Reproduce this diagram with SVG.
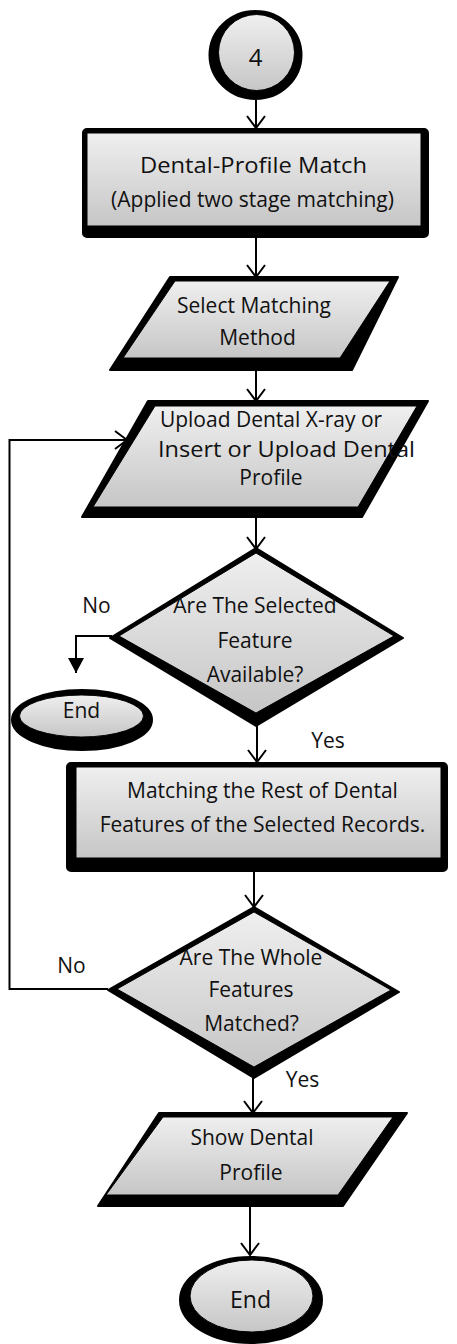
<svg xmlns="http://www.w3.org/2000/svg" width="457" height="1344" viewBox="0 0 457 1344">
<defs>
<linearGradient id="g" x1="0" y1="0" x2="0" y2="1">
<stop offset="0" stop-color="#efefef"/>
<stop offset="1" stop-color="#c6c6c6"/>
</linearGradient>
<marker id="open" markerUnits="userSpaceOnUse" viewBox="-14 -11 17 22" refX="0" refY="0" markerWidth="17" markerHeight="22" orient="auto" overflow="visible">
<path d="M-12,-9 L0,0 L-12,9" fill="none" stroke="#000" stroke-width="2"/>
</marker>
<marker id="solid" markerUnits="userSpaceOnUse" viewBox="-16 -9 17 18" refX="0" refY="0" markerWidth="17" markerHeight="18" orient="auto" overflow="visible">
<path d="M-15,-8 L0,0 L-15,8 Z" fill="#000"/>
</marker>
</defs>
<style>
.sh{fill:#000;stroke:#000;stroke-width:2;stroke-linejoin:round}
.f{fill:url(#g);stroke:#000;stroke-width:1;stroke-linejoin:round}
.t{font-family:"Open Sans","Noto Sans","DejaVu Sans",sans-serif;font-size:21px;fill:#111;text-anchor:middle}
.c{fill:none;stroke:#000;stroke-width:2}
</style>
<g id="connectors">
<path class="c" d="M256,100 V128" marker-end="url(#open)"/>
<path class="c" d="M256,238 V277" marker-end="url(#open)"/>
<path class="c" d="M256,370 V401" marker-end="url(#open)"/>
<path class="c" d="M256,517 V549" marker-end="url(#open)"/>
<path class="c" d="M257,726 V762" marker-end="url(#open)"/>
<path class="c" d="M254,872 V907" marker-end="url(#open)"/>
<path class="c" d="M253,1078 V1113" marker-end="url(#open)"/>
<path class="c" d="M250,1195 V1255" marker-end="url(#open)"/>
<path class="c" d="M112,636 H76 V673" marker-end="url(#solid)"/>
<path class="c" d="M108,989 H9.5 V440 H127" marker-end="url(#open)"/>
</g>
<g id="start4">
<ellipse class="sh" cx="255.5" cy="55" rx="46" ry="44"/>
<circle class="f" cx="256.5" cy="52.5" r="38"/>
<text class="t" x="255.5" y="66" style="font-size:24px">4</text>
</g>
<g id="profileMatch">
<rect class="sh" x="83" y="129" width="345" height="108" rx="4"/>
<rect class="f" x="87" y="133" width="334" height="93"/>
<text class="t" x="253.5" y="173" textLength="227" lengthAdjust="spacingAndGlyphs" style="font-size:22px">Dental-Profile Match</text>
<text class="t" x="252.5" y="207">(Applied two stage matching)</text>
</g>
<g id="selectMethod">
<polygon class="sh" points="170,277 398,277 352,370 110,370"/>
<polygon class="f" points="175,281 390,281 340,358 123,358"/>
<text class="t" x="254" y="313">Select Matching</text>
<text class="t" x="257.5" y="345">Method</text>
</g>
<g id="upload">
<polygon class="sh" points="148,401 428,401 362,517 82,517"/>
<polygon class="f" points="155,406 417,406 358,507 93,507"/>
<text class="t" x="271" y="427">Upload Dental X-ray or</text>
<text class="t" x="286.5" y="457" textLength="257" lengthAdjust="spacingAndGlyphs" style="font-size:22px">Insert or Upload Dental</text>
<text class="t" x="271" y="485">Profile</text>
</g>
<g id="decision1">
<polygon class="sh" points="256,548 403,638 256,726 110,638"/>
<polygon class="f" points="256,553 394,636 256,713 119,636"/>
<text class="t" x="255" y="613">Are The Selected</text>
<text class="t" x="255" y="648">Feature</text>
<text class="t" x="255" y="682">Available?</text>
</g>
<g id="labels1">
<text class="t" x="96.5" y="613">No</text>
<text class="t" x="328" y="748">Yes</text>
</g>
<g id="end1">
<ellipse class="sh" cx="82" cy="720" rx="70" ry="30"/>
<ellipse class="f" cx="81.5" cy="716" rx="62" ry="21"/>
<text class="t" x="81.5" y="718">End</text>
</g>
<g id="matchRest">
<rect class="sh" x="67" y="763" width="380" height="108" rx="4"/>
<rect class="f" x="76" y="767" width="365" height="91"/>
<text class="t" x="262.5" y="798">Matching the Rest of Dental</text>
<text class="t" x="262.5" y="832">Features of the Selected Records.</text>
</g>
<g id="decision2">
<polygon class="sh" points="254,907 399,992 254,1078 108,990"/>
<polygon class="f" points="254,912 391,990 254,1067 117,989"/>
<text class="t" x="251" y="965">Are The Whole</text>
<text class="t" x="251" y="997">Features</text>
<text class="t" x="251.5" y="1031">Matched?</text>
</g>
<g id="labels2">
<text class="t" x="71.5" y="973">No</text>
<text class="t" x="302.5" y="1087">Yes</text>
</g>
<g id="showProfile">
<polygon class="sh" points="159,1113 407,1113 343,1206 98,1206"/>
<polygon class="f" points="163,1117 393,1117 338,1195 106,1195"/>
<text class="t" x="252" y="1145">Show Dental</text>
<text class="t" x="251" y="1180">Profile</text>
</g>
<g id="end2">
<ellipse class="sh" cx="251" cy="1300" rx="71" ry="43"/>
<ellipse class="f" cx="251.5" cy="1296" rx="61.5" ry="36"/>
<text class="t" x="250.5" y="1308" style="font-size:23px">End</text>
</g>
</svg>
